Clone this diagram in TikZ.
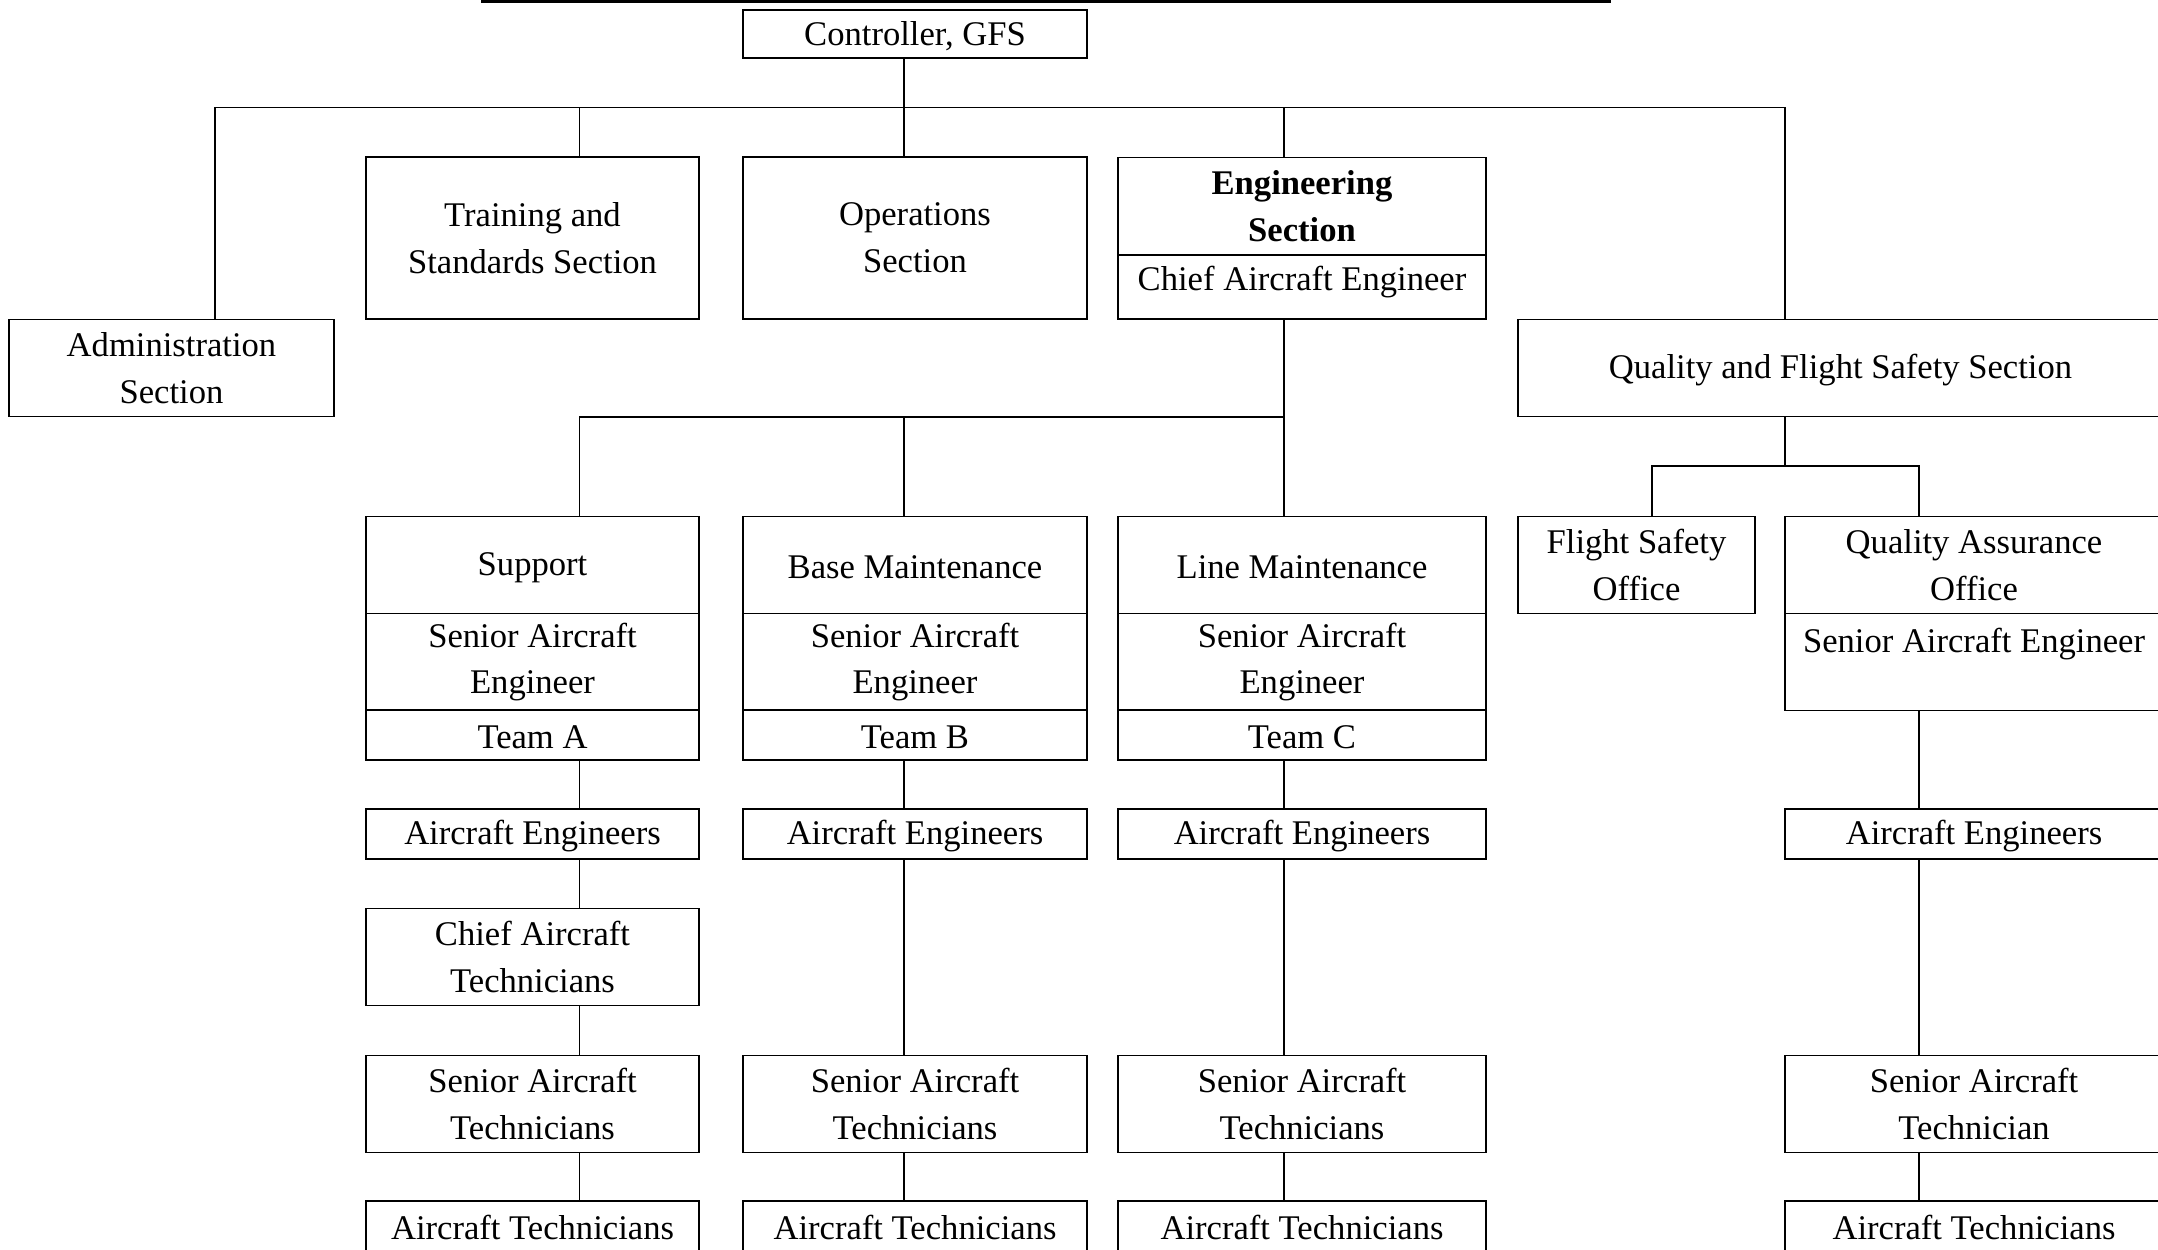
\documentclass[tikz,border=0pt]{standalone}
\usepackage{fontspec}
\setmainfont{Liberation Serif}

\tikzset{
  unit/.style={draw, line width=0.9pt, align=center, inner sep=0pt,
    font=\fontsize{17.3}{23.4}\selectfont,
    execute at begin node={\rule{0pt}{14pt}}},
  link/.style={line width=0.6pt},
  colA/.style={minimum width=166.5pt},
  colB/.style={minimum width=172pt},
  colC/.style={minimum width=184pt},
  colQ/.style={minimum width=189pt},
  low/.style={minimum height=25pt},
  tall/.style={minimum height=48.5pt},
}

\begin{document}
\begin{tikzpicture}[x=1pt, y=-1pt]
  \useasboundingbox (0,0) rectangle (1079,624.5);
  \coordinate (topL) at (240.5,0.7);
  \coordinate (topR) at (805.5,0.7);
  \draw[line width=1.4pt] (topL) -- (topR);

  \node[unit, colB, minimum height=24pt] (ctrl) at (457.5,17) {Controller, GFS};
%
  \node[unit, minimum width=162.5pt, tall] (admin) at (85.75,184) {Administration\\Section};
  \node[unit, colA, minimum height=81pt] (train) at (266.25,119) {Training and\\Standards Section};
  \node[unit, colB, minimum height=81pt] (ops) at (457.5,119) {Operations\\Section};
  \node[unit, colC, tall] (eng) at (651,103) {\textbf{Engineering}\\\textbf{Section}};
  \node[unit, colC, minimum height=32pt, text height=17.5pt, text depth=14.5pt] (engChief) at (651,143.5) {Chief Aircraft Engineer};
  \node[unit, minimum width=322.5pt, tall] (qfs) at (920.25,184) {Quality and Flight Safety Section};
%
  \node[unit, colA, tall] (supp) at (266.25,282.5) {Support};
  \node[unit, colA, tall] (suppSAE) at (266.25,331) {Senior Aircraft\\Engineer};
  \node[unit, colA, low] (teamA) at (266.25,367.5) {Team A};
  \node[unit, colA, low] (suppAE) at (266.25,417) {Aircraft Engineers};
  \node[unit, colA, tall] (suppCAT) at (266.25,478.5) {Chief Aircraft\\Technicians};
  \node[unit, colA, tall] (suppSAT) at (266.25,552) {Senior Aircraft\\Technicians};
  \node[unit, colA, low] (suppAT) at (266.25,613) {Aircraft Technicians};
%
  \node[unit, colB, tall] (base) at (457.5,282.5) {Base Maintenance};
  \node[unit, colB, tall] (baseSAE) at (457.5,331) {Senior Aircraft\\Engineer};
  \node[unit, colB, low] (teamB) at (457.5,367.5) {Team B};
  \node[unit, colB, low] (baseAE) at (457.5,417) {Aircraft Engineers};
  \node[unit, colB, tall] (baseSAT) at (457.5,552) {Senior Aircraft\\Technicians};
  \node[unit, colB, low] (baseAT) at (457.5,613) {Aircraft Technicians};
%
  \node[unit, colC, tall] (line) at (651,282.5) {Line Maintenance};
  \node[unit, colC, tall] (lineSAE) at (651,331) {Senior Aircraft\\Engineer};
  \node[unit, colC, low] (teamC) at (651,367.5) {Team C};
  \node[unit, colC, low] (lineAE) at (651,417) {Aircraft Engineers};
  \node[unit, colC, tall] (lineSAT) at (651,552) {Senior Aircraft\\Technicians};
  \node[unit, colC, low] (lineAT) at (651,613) {Aircraft Technicians};
%
  \node[unit, minimum width=118.5pt, tall] (fso) at (818.25,282.5) {Flight Safety\\Office};
  \node[unit, colQ, tall] (qao) at (987,282.5) {Quality Assurance\\Office};
  \node[unit, colQ, tall, text height=19.4pt, text depth=29.1pt] (qaoSAE) at (987,331) {Senior Aircraft Engineer};
  \node[unit, colQ, low] (qaoAE) at (987,417) {Aircraft Engineers};
  \node[unit, colQ, tall] (qaoSAT) at (987,552) {Senior Aircraft\\Technician};
  \node[unit, colQ, low] (qaoAT) at (987,613) {Aircraft Technicians};
%
  \coordinate (xAdm) at (107.5,0);
  \coordinate (xA) at (289.75,0);
  \coordinate (xB) at (452,0);
  \coordinate (xC) at (642,0);
  \coordinate (xQ) at (892.5,0);
  \coordinate (xF) at (826,0);
  \coordinate (xQA) at (959.5,0);
  \coordinate (bus) at (0,53.75);
  \coordinate (ebus) at (0,208.5);
  \coordinate (qbus) at (0,233);
%
  \draw[link] (ctrl.south -| xB) -- (xB |- bus);
  \draw[link] (admin.north -| xAdm) -- (xAdm |- bus) -- (xQ |- bus) -- (qfs.north -| xQ);
  \draw[link] (train.north -| xA) -- (xA |- bus);
  \draw[link] (ops.north -| xB) -- (xB |- bus);
  \draw[link] (eng.north -| xC) -- (xC |- bus);
%
  \draw[link] (engChief.south -| xC) -- (line.north -| xC);
  \draw[link] (supp.north -| xA) -- (xA |- ebus) -- (xC |- ebus);
  \draw[link] (base.north -| xB) -- (xB |- ebus);
%
  \draw[link] (qfs.south -| xQ) -- (xQ |- qbus);
  \draw[link] (fso.north -| xF) -- (xF |- qbus) -- (xQA |- qbus) -- (qao.north -| xQA);
%
  \draw[link] (teamA.south -| xA) -- (suppAE.north -| xA);
  \draw[link] (suppAE.south -| xA) -- (suppCAT.north -| xA);
  \draw[link] (suppCAT.south -| xA) -- (suppSAT.north -| xA);
  \draw[link] (suppSAT.south -| xA) -- (suppAT.north -| xA);
%
  \draw[link] (teamB.south -| xB) -- (baseAE.north -| xB);
  \draw[link] (baseAE.south -| xB) -- (baseSAT.north -| xB);
  \draw[link] (baseSAT.south -| xB) -- (baseAT.north -| xB);
%
  \draw[link] (teamC.south -| xC) -- (lineAE.north -| xC);
  \draw[link] (lineAE.south -| xC) -- (lineSAT.north -| xC);
  \draw[link] (lineSAT.south -| xC) -- (lineAT.north -| xC);
%
  \draw[link] (qaoSAE.south -| xQA) -- (qaoAE.north -| xQA);
  \draw[link] (qaoAE.south -| xQA) -- (qaoSAT.north -| xQA);
  \draw[link] (qaoSAT.south -| xQA) -- (qaoAT.north -| xQA);
\end{tikzpicture}
\end{document}
